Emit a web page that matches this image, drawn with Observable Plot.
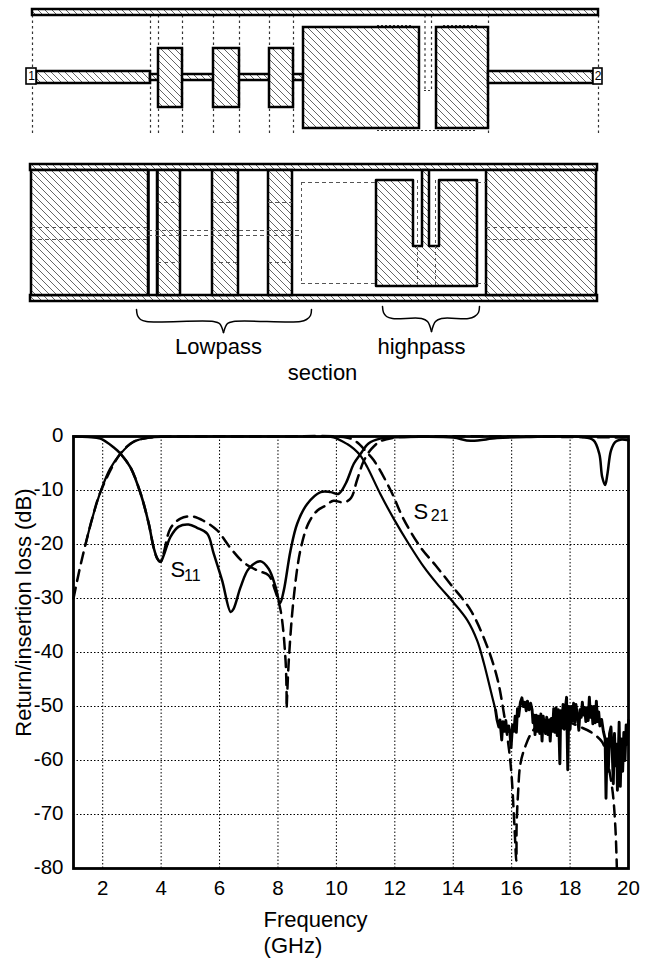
<!DOCTYPE html>
<html><head><meta charset="utf-8">
<script src="https://cdn.jsdelivr.net/npm/d3@7"></script>
<script src="https://cdn.jsdelivr.net/npm/@observablehq/plot@0.6"></script>
<style>html,body{margin:0;background:#fff}svg{display:block}</style>
</head><body><div id="top"></div><div id="chart"></div>
<script>
// Measured and simulated curves: [GHz, dB]
const passSolid=[[1.41,-20],[1.65,-15],[1.92,-10.3],[2.25,-6],[2.61,-3.2],[3.05,-1],[3.6,-.2],[4.2,-.05],[6,0],[8,0],[9.5,-.05],[9.9,-.15],[10.37,-1.4],[10.6,-2.3],[10.83,-3.6],[11.06,-5.7],[11.5,-10.6],[11.97,-15.3],[12.48,-19.9],[13,-24.2],[13.45,-27.3],[14,-30.7],[14.48,-34],[14.82,-37.8],[15.05,-42],[15.28,-47],[15.45,-50.7]];
const stopNoise=[[15.45,-50.7],[15.5,-52.5],[15.56,-53.8],[15.6,-52.5],[15.66,-56.2],[15.7,-52.8],[15.76,-54.6],[15.8,-52.6],[15.84,-54.8],[15.9,-53.6],[15.94,-55],[15.98,-57.6],[16.03,-53.4],[16.08,-54.6],[16.12,-51.8],[16.16,-54.8],[16.2,-50.4],[16.24,-51.8],[16.3,-49.2],[16.35,-48.4],[16.4,-50],[16.45,-49.2],[16.5,-50.8],[16.54,-49],[16.6,-50.6],[16.65,-49.4],[16.7,-50.6],[16.73,-53],[16.77,-51.6],[16.8,-55.2],[16.84,-51.6],[16.88,-54.6],[16.92,-51.8],[16.96,-55],[17,-51.4],[17.04,-56.4],[17.08,-51.8],[17.12,-53.4],[17.16,-55],[17.2,-52],[17.24,-55.2],[17.28,-52.6],[17.32,-56.4],[17.36,-52.2],[17.4,-54.6],[17.44,-50.4],[17.48,-54.8],[17.52,-50.2],[17.56,-55.4],[17.6,-50.6],[17.65,-60.6],[17.68,-50.8],[17.72,-54],[17.76,-49.6],[17.8,-54.2],[17.84,-50.2],[17.88,-48.3],[17.92,-61.7],[17.96,-50],[18,-54.2],[18.04,-50],[18.08,-52.6],[18.12,-49.4],[18.16,-53],[18.2,-49.6],[18.25,-51.8],[18.3,-54.4],[18.34,-50.6],[18.38,-52],[18.42,-49.2],[18.46,-51.6],[18.5,-50.2],[18.54,-52.8],[18.58,-50.2],[18.62,-52.6],[18.66,-48.3],[18.7,-52],[18.74,-50],[18.78,-53.2],[18.82,-50],[18.86,-53],[18.9,-49],[18.94,-52.8],[18.98,-51],[19.02,-53.6],[19.08,-52.4],[19.14,-54.6],[19.2,-56],[19.23,-67],[19.27,-56],[19.31,-62],[19.35,-55],[19.4,-53.8],[19.44,-58],[19.48,-64.3],[19.52,-55],[19.56,-61],[19.6,-57],[19.62,-65.5],[19.66,-57],[19.68,-52.9],[19.72,-64.8],[19.76,-56],[19.8,-62],[19.84,-54.8],[19.88,-60],[19.92,-53.4],[19.96,-57],[20,-52.6]];
const s11Solid=[[1,0],[1.5,-.1],[1.92,-.4],[2.37,-2],[2.61,-3.2],[2.95,-5.7],[3.3,-10.6],[3.57,-16],[3.75,-20.7],[3.87,-22.6],[3.98,-23.2],[4.09,-22],[4.32,-18.6],[4.6,-16.7],[4.94,-16.3],[5.23,-16.9],[5.58,-18],[5.8,-21.7],[6.09,-26.7],[6.38,-32.5],[6.48,-31.9],[6.72,-27.9],[7,-24.5],[7.4,-23.1],[7.68,-24.5],[7.92,-27.9],[8.07,-30.9],[8.2,-28.5],[8.43,-21.1],[8.66,-16.1],[9,-12.5],[9.46,-10.3],[9.8,-10.3],[10.08,-10.6],[10.32,-8.7],[10.6,-5],[10.83,-3.2],[11.1,-1.3],[11.5,-.4],[12,-.15],[13,-.05],[14,-.2],[14.6,-.8],[15.5,-.3],[16.5,-.1],[18.4,-.1],[18.8,-.7],[19,-3.2],[19.1,-7.5],[19.2,-9],[19.28,-6.9],[19.4,-2.6],[19.55,-1],[19.72,-.6],[20,-.7]];
const passDash=[[1,-30],[1.2,-24.8],[1.41,-20],[1.65,-15],[1.92,-10.3],[2.6,-3.2],[3.05,-1],[3.6,-.2],[5,0],[8,0],[10,0],[10.5,-.4],[10.8,-1.5],[11,-2.7],[11.28,-4.4],[11.86,-10],[12.3,-15.3],[12.88,-20.5],[13.4,-23.9],[13.9,-27.3],[14.6,-32.2],[15.17,-39],[15.5,-44.6],[15.68,-49.5],[15.91,-58],[16,-63],[16.08,-70.5],[16.16,-78.5],[16.17,-72],[16.22,-66],[16.3,-60.6],[16.48,-57.2],[16.7,-54.7],[17,-53],[17.6,-52.3],[18.35,-53.8],[18.7,-54.7],[19.1,-56.6],[19.25,-59.4],[19.45,-65.5],[19.55,-72.3],[19.6,-79.7]];
const s11DashA=[[2.61,-3.2],[2.95,-5.7],[3.3,-10.6],[3.57,-16],[3.75,-20.7],[3.87,-22.6],[3.98,-23.2],[4.09,-21.5],[4.32,-17],[4.66,-15.2],[5.06,-14.8],[5.45,-15.6],[5.92,-17.4],[6.38,-20.7],[6.82,-23.3],[7.29,-24.8],[7.68,-25.7],[7.9,-28.5],[8.09,-32.2],[8.26,-41.5],[8.3,-50]];
const s11DashB=[[8.3,-50],[8.37,-41.5],[8.54,-29.8],[8.77,-21],[9.05,-16],[9.35,-13.7],[9.63,-12.8],[9.9,-11.9],[10.25,-12.2],[10.5,-11.4],[10.7,-8.2],[10.94,-4.5],[11.2,-2.3],[11.5,-.9],[12,-.2],[13,0],[16,0],[20,-.2]];
const xTicks=[2,4,6,8,10,12,14,16,18,20];
const yTicks=[0,-10,-20,-30,-40,-50,-60,-70,-80];

// Layout schematic, in picture units
const hatched=[[32,598,9,15],[36,150,71,83],[150,303,74,80],[158,182,48,107],[213,239,48,107],[269,293,48,107],[303,419,27,128],[436,488,27,128],[488,593,71,83],[30,597,164,170],[30,597,295,301],[31,148,170,295],[157,180,170,295],[212,238,170,295],[268,292,170,295],[486,596,170,295]];
const ports=[[26,36,68,84],[593,602,68,84]];
const portLabels=[[31,76,"1"],[597.5,76,"2"]];
const openLines=[[148,170,295],[157,170,295]];
const highpass=[[376,180],[413,180],[413,246],[422,246],[422,170],[429,170],[429,246],[439,246],[439,180],[477,180],[477,286],[376,286],[376,180]];
const dotV=[[32,15,135],[150,15,135],[158,15,135],[182,15,135],[213,15,135],[239,15,135],[269,15,135],[293,15,135],[424.5,15,90],[431,15,90],[488,15,135],[598,15,133]];
const dotH=[[377,477,130],[377,413,25],[443,477,25],[424,431,90]];
const dashH=[[31,148,227],[31,148,239],[148,301,230],[148,301,235],[486,596,227],[486,596,239],[157,180,202],[212,238,202],[268,292,202],[157,180,262],[212,238,262],[268,292,262],[301,376,182],[301,376,283],[477,486,182],[477,486,283]];
const dashV=[[301,182,283],[417,180,286],[435,180,286]];
const braces=[
 [[136,309],[137,315],[140,319],[146,321],[213,321],[219,323],[223,332]],
 [[223,332],[227,323],[233,321],[300,321],[306,319],[310,315],[311,309]],
 [[382,306],[383,312],[386,316],[392,318],[421,318],[427,321],[431,331]],
 [[431,331],[435,321],[441,318],[468,318],[474,316],[478,312],[479,306]]
];
const schematicLabels=[[218,353,"Lowpass"],[421,353,"highpass"],[322,379,"section"]];

const font="'Liberation Sans',Arial,sans-serif";
const top_=Plot.plot({width:647,height:400,margin:0,
 x:{domain:[0,647],range:[0,647],axis:null},y:{domain:[0,400],range:[0,400],axis:null},
 style:{fontFamily:font,background:"#fff"},
 marks:[
  Plot.ruleX(dotV,{x:d=>d[0],y1:d=>d[1],y2:d=>d[2],stroke:"#333",strokeWidth:1.2,strokeDasharray:"2.5,3"}),
  Plot.ruleY(dotH,{y:d=>d[2],x1:d=>d[0],x2:d=>d[1],stroke:"#333",strokeWidth:1.2,strokeDasharray:"2,2"}),
  Plot.rect(hatched,{x1:d=>d[0],x2:d=>d[1],y1:d=>d[2],y2:d=>d[3],fill:"url(#hatch)",stroke:"#000",strokeWidth:2.5}),
  Plot.ruleX(openLines,{x:d=>d[0],y1:d=>d[1],y2:d=>d[2],stroke:"#000",strokeWidth:2.5}),
  Plot.rect(ports,{x1:d=>d[0],x2:d=>d[1],y1:d=>d[2],y2:d=>d[3],fill:"#fff",stroke:"#000",strokeWidth:1.6}),
  Plot.text(portLabels,{x:d=>d[0],y:d=>d[1],text:d=>d[2],fontSize:12,fill:"#000"}),
  Plot.line(highpass,{x:d=>d[0],y:d=>d[1],dx:-.5,dy:-.5,fill:"url(#hatch)",stroke:"#000",strokeWidth:2.5}),
  Plot.ruleY(dashH,{y:d=>d[2],x1:d=>d[0],x2:d=>d[1],stroke:"#555",strokeWidth:1,strokeDasharray:"4,3"}),
  Plot.ruleX(dashV,{x:d=>d[0],y1:d=>d[1],y2:d=>d[2],stroke:"#555",strokeWidth:1,strokeDasharray:"3,3"}),
  ...braces.map(b=>Plot.line(b,{x:d=>d[0],y:d=>d[1],stroke:"#000",strokeWidth:1.5,curve:"catmull-rom"})),
  Plot.text(schematicLabels,{x:d=>d[0],y:d=>d[1],text:d=>d[2],fontSize:22,fill:"#000",lineAnchor:"bottom"})
 ]});
d3.select(top_).insert("defs",":first-child").html('<pattern id="hatch" patternUnits="userSpaceOnUse" width="7" height="7"><rect width="7" height="7" fill="#fff"/><path d="M-1,-1L8,8M-1,6L1,8M6,-1L8,1" stroke="#555" stroke-width=".9" fill="none"/></pattern>');
document.getElementById("top").append(top_);

const curve=(d,o)=>Plot.line(d,{x:e=>e[0],y:e=>e[1],stroke:"#000",curve:"catmull-rom",...o});
const dash={strokeWidth:2.5,strokeDasharray:"11,7"};
const chart=Plot.plot({width:647,height:560,marginTop:36,marginBottom:92,marginLeft:73,marginRight:19,
 x:{domain:[1,20],axis:null},y:{domain:[-80,0],axis:null},
 style:{fontFamily:font,background:"#fff",color:"#000"},
 marks:[
  Plot.ruleX(xTicks,{stroke:"#000",strokeWidth:1,strokeDasharray:"1.5,2"}),
  Plot.ruleY(yTicks,{stroke:"#000",strokeWidth:1,strokeDasharray:"1.5,2"}),
  curve(passDash,dash),curve(s11DashA,dash),curve(s11DashB,dash),
  curve(passSolid,{strokeWidth:2.2}),curve(stopNoise,{strokeWidth:2.9,curve:"linear"}),curve(s11Solid,{strokeWidth:2.5}),
  Plot.frame({stroke:"#000",strokeWidth:2.8}),
  Plot.axisX(xTicks,{anchor:"bottom",tickSize:0,tickPadding:12,tickFormat:String,fontSize:20.5,fill:"#000"}),
  Plot.axisY(yTicks,{anchor:"left",tickSize:0,tickPadding:10,dy:-1,tickFormat:String,fontSize:20.5,fill:"#000"}),
  Plot.text(["Frequency"],{x:[7.507],y:[-90.9],fontSize:22,textAnchor:"start",lineAnchor:"bottom",fill:"#000"}),
  Plot.text(["(GHz)"],{x:[7.507],y:[-95.6],fontSize:22,textAnchor:"start",lineAnchor:"bottom",fill:"#000"}),
  Plot.text(["Return/insertion loss (dB)"],{x:[-.71],y:[-32.6],rotate:-90,fontSize:22,fill:"#000"}),
  Plot.text(["S"],{x:[4.32],y:[-26.1],fontSize:22,textAnchor:"start",lineAnchor:"bottom",fill:"#000"}),
  Plot.text(["11"],{x:[4.78],y:[-26.7],fontSize:16,textAnchor:"start",lineAnchor:"bottom",fill:"#000"}),
  Plot.text(["S"],{x:[12.64],y:[-15.2],fontSize:22,textAnchor:"start",lineAnchor:"bottom",fill:"#000"}),
  Plot.text(["21"],{x:[13.23],y:[-15.7],fontSize:16,textAnchor:"start",lineAnchor:"bottom",fill:"#000"})
 ]});
document.getElementById("chart").append(chart);
</script></body></html>
